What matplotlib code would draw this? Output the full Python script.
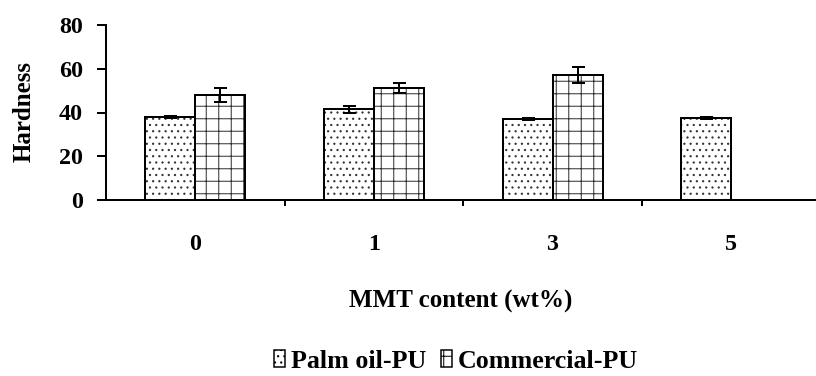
import numpy as np
import matplotlib
matplotlib.use("Agg")
import matplotlib.pyplot as plt
from matplotlib.patches import Patch

# ---- data ----
categories = ["0", "1", "3", "5"]
palm_oil_pu = [38.1, 41.4, 36.9, 37.5]
palm_oil_err = [0.5, 1.5, 0.5, 0.5]
commercial_pu = [48.0, 51.3, 57.1, np.nan]
commercial_err = [3.4, 2.4, 3.7, np.nan]
y_ticks = [0, 20, 40, 60, 80]
series_names = ["Palm oil-PU", "Commercial-PU"]

DPI = 75
PX = 72.0 / DPI  # points per pixel

plt.rcParams["font.family"] = ["Liberation Serif", "DejaVu Serif"]
plt.rcParams["font.weight"] = "bold"
plt.rcParams["axes.labelweight"] = "bold"
plt.rcParams["hatch.linewidth"] = 1.0 * PX

fig = plt.figure(figsize=(816 / DPI, 376 / DPI), dpi=DPI, facecolor="white")
ax = fig.add_axes([106 / 816, 1 - 200 / 376, 1 - 106 / 816, 175 / 376])

fs = 24 * PX
x = np.arange(len(categories))
w = 0.28

hatch_col = "#333333"
# hatched fills
ax.bar(x - w / 2, palm_oil_pu, w, color="white", edgecolor=hatch_col,
       hatch="..", linewidth=0)
ax.bar(x + w / 2, commercial_pu, w, color="white", edgecolor=hatch_col,
       hatch="+", linewidth=0)
# outlines
ax.bar(x - w / 2, palm_oil_pu, w, color="none", edgecolor="black",
       linewidth=2 * PX)
ax.bar(x + w / 2, commercial_pu, w, color="none", edgecolor="black",
       linewidth=2 * PX)

ax.errorbar(x - w / 2, palm_oil_pu, yerr=palm_oil_err, fmt="none",
            ecolor="black", elinewidth=2 * PX, capsize=6.5 * PX,
            capthick=2 * PX)
ax.errorbar(x + w / 2, commercial_pu, yerr=commercial_err, fmt="none",
            ecolor="black", elinewidth=2 * PX, capsize=6.5 * PX,
            capthick=2 * PX)

ax.set_xlim(-0.5, 3.475)
ax.set_ylim(0, 80)
ax.set_yticks(y_ticks)
ax.set_xticks(x)
ax.set_xticklabels(categories)
ax.set_xticks(x[:-1] + 0.5, minor=True)

for s in ["top", "right"]:
    ax.spines[s].set_visible(False)
for s in ["left", "bottom"]:
    ax.spines[s].set_linewidth(2 * PX)

ax.tick_params(axis="y", direction="out", length=9 * PX, width=2 * PX,
               labelsize=fs, pad=14 * PX)
ax.tick_params(axis="x", which="major", length=0, labelsize=fs, pad=34 * PX)
ax.tick_params(axis="x", which="minor", direction="out", length=6 * PX,
               width=2 * PX)

ax.set_xlabel("MMT content (wt%)", fontsize=25 * PX)
ax.xaxis.set_label_coords(0.5, (200 - 301) / 175)
ax.xaxis.label.set_va("center")
ax.set_ylabel("Hardness", fontsize=25 * PX)
ax.yaxis.set_label_coords((24 - 106) / 710, (200 - 111.5) / 175)
ax.yaxis.label.set_va("center")

# legend handles use the hatched style
h1 = Patch(facecolor="white", edgecolor="black", hatch="..", linewidth=1.5 * PX)
h2 = Patch(facecolor="white", edgecolor="black", hatch="+", linewidth=1.5 * PX)
fig.legend([h1, h2], series_names, loc="center",
           bbox_to_anchor=(456 / 816, 1 - 361 / 376), ncol=2, frameon=False,
           prop={"size": 26 * PX, "weight": "bold"},
           handlelength=0.42, handleheight=0.65,
           handletextpad=0.2, columnspacing=0.6, borderpad=0)

fig.savefig("out.png", dpi=DPI, facecolor="white")
